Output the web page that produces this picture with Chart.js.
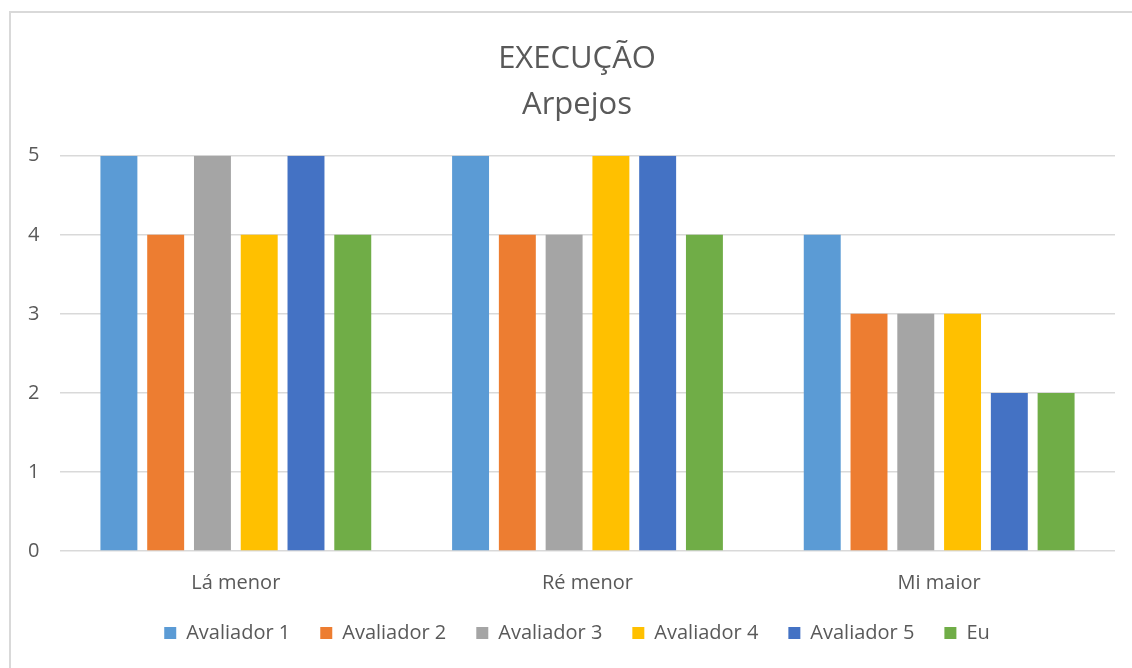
<!DOCTYPE html>
<html>
<head>
<meta charset="utf-8">
<script src="https://cdn.jsdelivr.net/npm/chart.js@4/dist/chart.umd.min.js"></script>
<style>
    body { margin: 0; background: #fff; overflow: hidden; }
    #wrap { position: relative; width: 1132px; height: 668px; }
    #moldura { position: absolute; left: 9px; top: 11px; width: 1200px; height: 800px; border: 2px solid #d9d9d9; }
    canvas { position: absolute; left: 0; top: 0; }
</style>
</head>
<body>
<div id="wrap">
    <div id="moldura"></div>
    <canvas id="grafico" width="1132" height="668"></canvas>
</div>
<script>
// Dados
var categorias = ["Lá menor", "Ré menor", "Mi maior"];
var avaliador1 = [5, 5, 4];
var avaliador2 = [4, 4, 3];
var avaliador3 = [5, 4, 3];
var avaliador4 = [4, 5, 3];
var avaliador5 = [5, 5, 2];
var eu = [4, 4, 2];
var titulo = ["EXECUÇÃO", "Arpejos"];

var cinza = "#595959";
var fonte = "'Open Sans', sans-serif";

function serie(nome, valores, cor) {
    return {
        label: nome,
        data: valores,
        backgroundColor: cor,
        borderWidth: 0,
        categoryPercentage: 0.798,
        barPercentage: 0.79
    };
}

var ctx = document.getElementById("grafico");
var grafico = new Chart(ctx, {
    type: "bar",
    data: {
        labels: categorias,
        datasets: [
            serie("Avaliador 1", avaliador1, "#5B9BD5"),
            serie("Avaliador 2", avaliador2, "#ED7D31"),
            serie("Avaliador 3", avaliador3, "#A5A5A5"),
            serie("Avaliador 4", avaliador4, "#FFC000"),
            serie("Avaliador 5", avaliador5, "#4472C4"),
            serie("Eu", eu, "#70AD47")
        ]
    },
    options: {
        responsive: false,
        animation: false,
        layout: {
            // padding esquerdo para centrar titulo e legenda como no original
            padding: { left: 39, right: 17, top: 0, bottom: 15 }
        },
        scales: {
            x: {
                grid: { display: false, drawTicks: false },
                border: { display: false },
                ticks: { color: cinza, font: { family: fonte, size: 20 }, padding: 20 },
                afterFit: function (scale) { scale.height = 42; }
            },
            y: {
                min: 0,
                max: 5,
                grid: { color: "#d9d9d9", lineWidth: 1.5, drawTicks: false },
                border: { display: false },
                // mirror + padding negativo: rotulos ficam a esquerda sem serem cortados
                ticks: { stepSize: 1, color: cinza, font: { family: fonte, size: 20 }, mirror: true, padding: -32 },
                afterFit: function (scale) { scale.width = 21; }
            }
        },
        plugins: {
            title: {
                display: true,
                text: titulo,
                color: cinza,
                font: { family: fonte, size: 31, weight: "normal", lineHeight: 1.48 },
                padding: { top: 36, bottom: 28 }
            },
            legend: {
                position: "bottom",
                labels: {
                    color: cinza,
                    font: { family: fonte, size: 20 },
                    boxWidth: 12,
                    boxHeight: 12,
                    padding: 30
                }
            },
            tooltip: { enabled: false }
        }
    }
});
</script>
</body>
</html>
